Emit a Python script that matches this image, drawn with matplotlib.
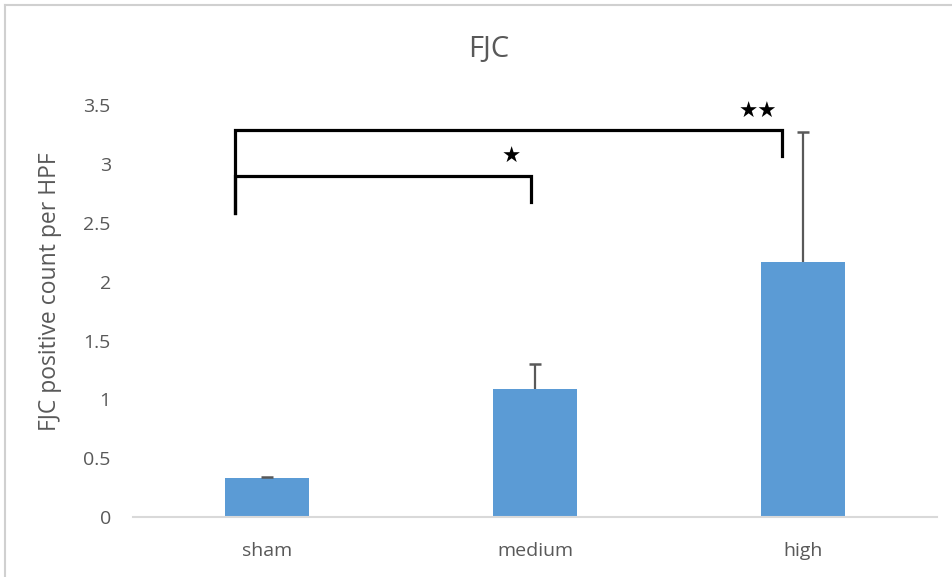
import matplotlib.pyplot as plt
from matplotlib.lines import Line2D

# data
groups = ['sham', 'medium', 'high']
means = [0.33, 1.09, 2.17]
errs = [0.01, 0.21, 1.10]

# significance brackets: (x_left, x_right, y_top, y_left_end, y_right_end, label, label_x, label_y)
brackets = [
    (-0.12, 1.92, 3.285, 2.58, 3.07, '★★', 1.83, 3.44),
    (-0.12, 0.985, 2.897, 2.58, 2.68, '★', 0.91, 3.06),
]

grey = '#595959'
plt.rcParams['font.family'] = ['Open Sans', 'DejaVu Sans']

fig = plt.figure(figsize=(9.52, 5.77), dpi=100)
ax = fig.add_axes([133 / 952, 1 - 517.3 / 577, (937 - 133) / 952, (517.3 - 105) / 577])

x = list(range(len(groups)))
tops = [m + e for m, e in zip(means, errs)]
ax.bar(x, means, width=0.31, color='#5B9BD5', zorder=2)
# plus-only error bars
ax.vlines(x, means, tops, color=grey, lw=1.6, zorder=3)
ax.plot(x, tops, ls='none', marker='_', ms=9, mew=1.8, color=grey, zorder=3)

for xl, xr, yt, yl, yr, lab, lx, ly in brackets:
    ax.plot([xl, xl, xr, xr], [yl, yt, yt, yr], color='black', lw=2.3,
            solid_joinstyle='miter', zorder=4)
    ax.text(lx, ly, lab, ha='center', va='center', fontsize=15.5,
            family=['DejaVu Sans'], color='black')

ax.set_xlim(-0.5, 2.5)
ax.set_ylim(0, 3.5)
ax.set_yticks([0, 0.5, 1, 1.5, 2, 2.5, 3, 3.5])
ax.set_yticklabels(['0', '0.5', '1', '1.5', '2', '2.5', '3', '3.5'])
ax.set_xticks(x)
ax.set_xticklabels(groups)
ax.tick_params(axis='y', length=0, pad=16, labelsize=14, labelcolor=grey)
ax.tick_params(axis='x', length=0, pad=18, labelsize=14, labelcolor=grey)

for side in ['top', 'right', 'left']:
    ax.spines[side].set_visible(False)
ax.spines['bottom'].set_color('#d9d9d9')
ax.spines['bottom'].set_linewidth(1.5)

ax.set_ylabel('FJC positive count per HPF', fontsize=16.5, color=grey, va='center')
ax.yaxis.set_label_coords(-0.103, 0.546)
fig.text(489 / 952, 1 - 50 / 577, 'FJC', ha='center', va='center', fontsize=21, color=grey)

# chart frame (only left and top edges visible in the reference)
fig.add_artist(Line2D([5 / 952, 5 / 952], [0, 1 - 5 / 577], transform=fig.transFigure,
                      color='#d0d0d0', lw=1.5))
fig.add_artist(Line2D([5 / 952, 1], [1 - 5 / 577, 1 - 5 / 577], transform=fig.transFigure,
                      color='#d0d0d0', lw=1.5))

fig.savefig('out.png', dpi=100, facecolor='white')
